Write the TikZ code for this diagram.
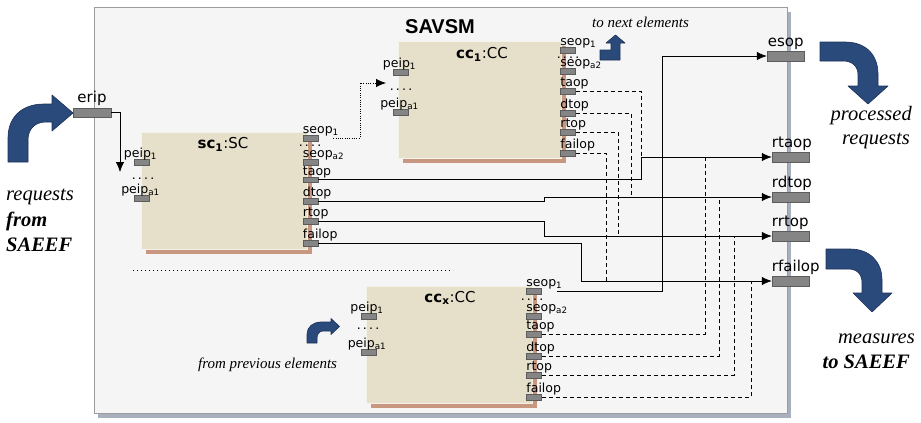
\documentclass[tikz,border=0pt]{standalone}
\usepackage{fontspec}
\setmainfont{DejaVu Sans}
\newfontfamily\notefont{Liberation Serif}
\newfontfamily\headfont{Liberation Sans}
\usetikzlibrary{arrows.meta,shadows}

\definecolor{framefill}{HTML}{F5F5F5}
\definecolor{framedraw}{HTML}{9C9C9C}
\definecolor{frameshadow}{HTML}{A8AFBD}
\definecolor{boxfill}{HTML}{E6DFC9}
\definecolor{boxshadow}{HTML}{C99680}
\definecolor{portfill}{HTML}{858585}
\definecolor{portdraw}{HTML}{5C5C5C}
\definecolor{navy}{HTML}{2A4A7C}
\definecolor{navyedge}{HTML}{1C3157}

% subscript used in port and component names
\newcommand\sbs[1]{\textsubscript{#1}}
% output-side port: label left-aligned above the port
\newcommand\rport[4]{%
  \node[port] (#1) at (#2,#3) {};
  \node[plabel, anchor=base west] (#1-l) at ([yshift=1.5pt]#1.north west) {#4};}
% input-side port: label centred above the port
\newcommand\lport[4]{%
  \node[port] (#1) at (#2,#3) {};
  \node[plabel, anchor=base] (#1-l) at ([xshift=-1.5pt,yshift=1.5pt]#1.north) {#4};}
% ellipsis between port groups
\newcommand\pdots[3]{\node[plabel, anchor=base] (#1) at (#2,#3) {.\kern2.2pt.\kern2.2pt.\kern2.2pt.};}
% external port of SAVSM with its label
\newcommand\xport[4]{%
  \node[bigport] (#1) at (#2,#3) {};
  \node[xlabel, anchor=base west] (#1-l) at ([yshift=4.5pt]#1.north west) {#4};}

\begin{document}
\begin{tikzpicture}[x=1pt,y=-1pt,
  frame/.style={draw=framedraw, fill=framefill, line width=0.8pt,
    minimum width=693pt, minimum height=406pt, inner sep=0pt,
    drop shadow={shadow xshift=3.5pt, shadow yshift=-5pt, fill=frameshadow, opacity=1}},
  comp/.style={fill=boxfill, draw=white!60!boxfill, line width=0.6pt,
    minimum width=166pt, minimum height=117pt, inner sep=0pt,
    drop shadow={shadow xshift=4.5pt, shadow yshift=-5pt, fill=boxshadow, opacity=1}},
  port/.style={draw=portdraw, fill=portfill, line width=0.5pt,
    minimum width=15pt, minimum height=5.5pt, inner sep=0pt},
  bigport/.style={port, minimum width=37pt, minimum height=9.5pt},
  plabel/.style={font=\fontsize{12.5}{14}\selectfont, inner sep=0pt},
  xlabel/.style={font=\fontsize{15}{18}\selectfont, inner sep=0pt},
  cname/.style={font=\fontsize{15}{18}\selectfont, inner sep=0pt, anchor=base},
  wire/.style={line width=0.8pt},
  dwire/.style={line width=0.8pt, dash pattern=on 4pt off 3pt},
  arr/.style={-{Latex[length=10pt,width=8.5pt]}},
  bluearrow/.style={fill=navy, draw=navyedge, line width=0.6pt, line join=round},
  note/.style={font=\notefont\itshape\fontsize{20.5}{24}\selectfont, inner sep=0pt},
  smallnote/.style={font=\notefont\itshape\fontsize{15}{18}\selectfont, inner sep=0pt},
]
\useasboundingbox (0,0) rectangle (921,423);

% enclosing SAVSM component
\node[frame] (savsm) at (440.5,210) {};
\node[font=\headfont\bfseries\fontsize{20}{24}\selectfont, anchor=base, inner sep=0pt]
  (savsm-name) at (440,33) {SAVSM};

% inner components
\node[comp] (sc1) at (224,190.5) {};
\node[comp, minimum width=163pt] (cc1) at (479.5,99.5) {};
\node[comp] (ccx) at (449,344.5) {};
\node[cname] (sc1-name) at (223,148.5) {\textbf{sc\sbs{1}}:SC};
\node[cname] (cc1-name) at (482,58.5) {\textbf{cc\sbs{1}}:CC};
\node[cname] (ccx-name) at (450,302.5) {\textbf{cc\sbs{x}}:CC};

% ports of sc1
\lport{sc1-i1}{142}{162}{peip\sbs{1}}
\pdots{sc1-id}{143}{179.5}
\lport{sc1-ia}{142}{198}{peip\sbs{a1}}
\rport{sc1-seop1}{310.5}{138}{seop\sbs{1}}
\pdots{sc1-od}{310}{146.5}
\rport{sc1-seopa2}{310.5}{162}{seop\sbs{a2}}
\rport{sc1-taop}{310.5}{179.5}{taop}
\rport{sc1-dtop}{310.5}{201}{dtop}
\rport{sc1-rtop}{310.5}{221}{rtop}
\rport{sc1-failop}{310.5}{243}{failop}

% ports of cc1
\lport{cc1-i1}{401}{72}{peip\sbs{1}}
\pdots{cc1-id}{401}{90.5}
\lport{cc1-ia}{401}{112}{peip\sbs{a1}}
\rport{cc1-seop1}{568}{50}{seop\sbs{1}}
\pdots{cc1-od}{568}{58.5}
\rport{cc1-seopa2}{568}{71}{seop\sbs{a2}}
\rport{cc1-taop}{568}{91}{taop}
\rport{cc1-dtop}{568}{113}{dtop}
\rport{cc1-rtop}{568}{132}{rtop}
\rport{cc1-failop}{568}{153}{failop}

% ports of ccx
\lport{ccx-i1}{368.5}{316}{peip\sbs{1}}
\pdots{ccx-id}{368}{329.5}
\lport{ccx-ia}{368.5}{352}{peip\sbs{a1}}
\rport{ccx-seop1}{534}{291}{seop\sbs{1}}
\pdots{ccx-od}{532}{300.5}
\rport{ccx-seopa2}{534}{316}{seop\sbs{a2}}
\rport{ccx-taop}{534}{334}{taop}
\rport{ccx-dtop}{534}{356}{dtop}
\rport{ccx-rtop}{534}{375}{rtop}
\rport{ccx-failop}{534}{397}{failop}

% external ports of SAVSM
\node[bigport, minimum width=38pt, minimum height=9pt] (erip) at (92,112.5) {};
\node[xlabel, anchor=base] (erip-l) at ([yshift=5pt]erip.north) {erip};
\node[bigport] (esop) at (785.5,56) {};
\node[xlabel, anchor=base west] (esop-l) at ([xshift=1pt,yshift=4.3pt]esop.north west) {esop};
\xport{rtaop}{790.5}{157}{rtaop}
\xport{rdtop}{790.5}{197}{rdtop}
\xport{rrtop}{790.5}{236}{rrtop}
\xport{rfailop}{790.5}{281}{rfailop}

% free ends of the input connectors
\coordinate (sc1-in) at (120,172);
\coordinate (cc1-in) at (386,83);
\coordinate (sep-a) at (133,270);
\coordinate (sep-b) at (453,270);

% request flow
\draw[wire, arr] (erip.east) -| (sc1-in);
\draw[line width=0.8pt, dash pattern=on 0.8pt off 1.5pt, arr, shorten <=15pt]
  (sc1-seop1.east) -| ([xshift=-26pt]cc1-in) -- (cc1-in);
\draw[wire, arr, shorten <=15pt] (ccx-seop1.east) -| (662,0 |- esop.west) -- (esop.west);

% measures of sc1
\draw[wire, arr] (sc1-taop.east) -| (641,0 |- rtaop.west) -- (rtaop.west);
\draw[wire, arr] (sc1-dtop.east) -| (544,0 |- rdtop.west) -- (rdtop.west);
\draw[wire, arr] (sc1-rtop.east) -| (544,0 |- rrtop.west) -- (rrtop.west);
\draw[wire, arr] (sc1-failop.east) -| (581,0 |- rfailop.west) -- (rfailop.west);

% measures of cc1
\draw[dwire] (cc1-taop.east) -| (641,0 |- rtaop.west);
\draw[dwire] (cc1-dtop.east) -| (631,0 |- rdtop.west);
\draw[dwire] (cc1-rtop.east) -| (618,0 |- rrtop.west);
\draw[dwire] (cc1-failop.east) -| (606,0 |- rfailop.west);

% measures of ccx
\draw[dwire] (ccx-taop.east) -| (705,0 |- rtaop.west);
\draw[dwire] (ccx-dtop.east) -| (719,0 |- rdtop.west);
\draw[dwire] (ccx-rtop.east) -| (734,0 |- rrtop.west);
\draw[dwire] (ccx-failop.east) -| (751,0 |- rfailop.west);

% further components
\draw[line width=1pt, dash pattern=on 1.1pt off 2.9pt] (sep-a) -- (sep-b);

% outside flows
\filldraw[bluearrow] (8,162) -- (8,138) .. controls (8,117) and (22,104) .. (44,104)
  -- (52,104) -- (52,95) -- (73,113) -- (52,131) -- (52,122) -- (46,122)
  .. controls (35,122) and (28,129) .. (28,140) -- (28,162) -- cycle;
\filldraw[bluearrow] (820,42) -- (845,42) .. controls (866,42) and (878,55) .. (878,74)
  -- (878,86) -- (888,86) -- (868,104) -- (848,86) -- (858,86) -- (858,75)
  .. controls (858,66) and (852,61) .. (843,61) -- (820,61) -- cycle;
\filldraw[bluearrow] (826,249) -- (850,249) .. controls (870,249) and (882,262) .. (882,280)
  -- (882,293) -- (892,293) -- (872,312) -- (853,293) -- (862,293) -- (862,283)
  .. controls (862,274) and (857,269) .. (848,269) -- (826,269) -- cycle;
\filldraw[bluearrow] (600,50) -- (611,50) -- (611,43) -- (606,43) -- (615.5,35)
  -- (625,43) -- (620,43) -- (620,60) -- (600,60) -- cycle;
\filldraw[bluearrow] (307,343) -- (307,334) .. controls (307,327) and (313,322) .. (321,322)
  -- (331,322) -- (331,318.5) -- (339.5,326.5) -- (331,334.5) -- (331,331) -- (323,331)
  .. controls (319.5,331) and (317,334) .. (317,338) -- (317,343) -- cycle;

% notes
\node[note, anchor=base west] (req-a) at (6,200) {requests};
\node[note, anchor=base west] (req-b) at (6,226.5) {\bfseries from};
\node[note, anchor=base west] (req-c) at (6,251) {\bfseries SAEEF};
\node[note, anchor=base east] (proc-a) at (912,120.5) {processed};
\node[note, anchor=base east] (proc-b) at (910,144) {requests};
\node[note, anchor=base east] (meas-a) at (915,343) {measures};
\node[note, anchor=base east] (meas-b) at (910,368) {\bfseries to SAEEF};
\node[smallnote, anchor=base west] (next-note) at (592,27.3) {to next elements};
\node[smallnote, anchor=base west] (prev-note) at (198,368.3) {from previous elements};
\end{tikzpicture}
\end{document}
